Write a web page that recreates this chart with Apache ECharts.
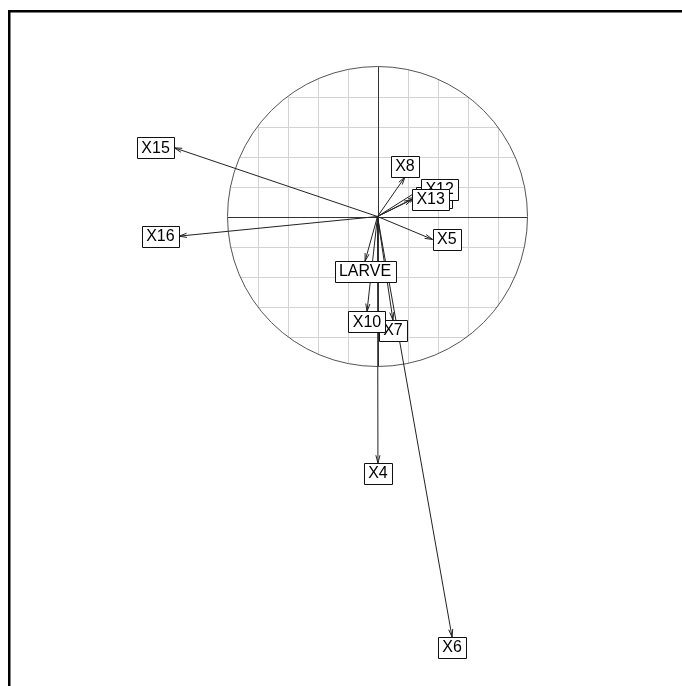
<!DOCTYPE html>
<html><head><meta charset="utf-8">
<script src="https://cdn.jsdelivr.net/npm/echarts@6/dist/echarts.min.js"></script>
<style>html,body{margin:0;padding:0;background:#fff}#c{width:682px;height:686px}</style>
</head><body><div id="c"></div>
<script>
// Variable names (in drawing order) and their correlation-circle coordinates
const labels  = ['X4','X5','X6','X7','X8','X10','X11','X12','X13','X15','X16','LARVE'];
const xValues = [0.003, 0.367, 0.497, 0.103, 0.183, -0.070, 0.257, 0.290, 0.230, -1.355, -1.323, -0.083];
const yValues = [-1.643, -0.153, -2.803, -0.690, 0.263, -0.633, 0.130, 0.183, 0.113, 0.458, -0.131, -0.297];
const gridTicks = [-0.8, -0.6, -0.4, -0.2, 0.2, 0.4, 0.6, 0.8];

const FONT = '16px "Liberation Sans", Arial, sans-serif';
const ctx = document.createElement('canvas').getContext('2d');
ctx.font = FONT;
function tw(s){ return ctx.measureText(s).width; }

const chart = echarts.init(document.getElementById('c'), null, {renderer:'canvas'});

function circleItem(params, api){
  const c = api.coord([0,0]);
  const s = api.size([1,1]);
  const r = s[0];
  const ch = [];
  gridTicks.forEach(v => {
    const h = Math.sqrt(1 - v*v);
    const a = api.coord([v, -h]), b = api.coord([v, h]);
    ch.push({type:'line', shape:{x1:Math.round(a[0])+0.5, y1:a[1], x2:Math.round(b[0])+0.5, y2:b[1]},
      style:{stroke:'#d3d3d3', lineWidth:1}});
    const p = api.coord([-h, v]), q = api.coord([h, v]);
    ch.push({type:'line', shape:{x1:p[0], y1:Math.round(p[1])+0.5, x2:q[0], y2:Math.round(q[1])+0.5},
      style:{stroke:'#d3d3d3', lineWidth:1}});
  });
  const l = api.coord([-1,0]), rr = api.coord([1,0]), t = api.coord([0,1]), b = api.coord([0,-1]);
  ch.push({type:'line', shape:{x1:l[0], y1:Math.round(l[1])+0.5, x2:rr[0], y2:Math.round(rr[1])+0.5}, style:{stroke:'#333', lineWidth:1}});
  ch.push({type:'line', shape:{x1:Math.round(t[0])+0.5, y1:t[1], x2:Math.round(b[0])+0.5, y2:b[1]}, style:{stroke:'#333', lineWidth:1}});
  ch.push({type:'circle', shape:{cx:c[0], cy:c[1], r:r}, style:{stroke:'#555', fill:null, lineWidth:1}});
  return {type:'group', children:ch};
}

function arrowItem(params, api){
  const p0 = api.coord([0,0]);
  const p1 = api.coord([api.value(0), api.value(1)]);
  const a = Math.atan2(p1[1]-p0[1], p1[0]-p0[0]);
  const L = 8, th = 15*Math.PI/180;
  const h1 = [p1[0]-L*Math.cos(a-th), p1[1]-L*Math.sin(a-th)];
  const h2 = [p1[0]-L*Math.cos(a+th), p1[1]-L*Math.sin(a+th)];
  return {type:'group', children:[
    {type:'line', shape:{x1:p0[0], y1:p0[1], x2:p1[0], y2:p1[1]}, style:{stroke:'#222', lineWidth:1}},
    {type:'polyline', shape:{points:[h1, p1, h2]}, style:{stroke:'#222', fill:null, lineWidth:1}}
  ]};
}

function labelItem(params, api){
  const x = api.value(0), y = api.value(1);
  const name = labels[params.dataIndex];
  const p = api.coord([x, y]);
  const xh = tw(' ' + name + ' ');
  const yh = 10.5;
  let cx = p[0], cy = p[1];
  if (x > y && x > -y) { cx = p[0] + xh/2; }
  else if (x > y && x <= -y) { cy = p[1] + yh; }
  else if (x <= y && x <= -y) { cx = p[0] - xh/2; }
  else { cy = p[1] - yh; }
  const rx = Math.round(cx - xh/2) + 0.5, ry = Math.round(cy - yh) + 0.5;
  return {type:'group', children:[
    {type:'rect', shape:{x:rx, y:ry, width:Math.round(xh), height:Math.round(2*yh)},
      style:{fill:'#fff', stroke:'#111', lineWidth:1}},
    {type:'text', style:{x:cx, y:cy+0.5, text:name, font:FONT, fill:'#000', align:'center', verticalAlign:'middle'}}
  ]};
}

const pts = labels.map((n,i) => [xValues[i], yValues[i]]);

chart.setOption({
  animation:false,
  backgroundColor:'#fff',
  grid:{left:2.5, top:6.5, width:675, height:660},
  xAxis:{type:'value', min:-2.5, max:2.0, show:false},
  yAxis:{type:'value', min:-3.0, max:1.4, show:false},
  graphic:[{type:'rect', z:100, shape:{x:9.25, y:11.25, width:800, height:800},
    style:{stroke:'#000', fill:null, lineWidth:2.5}}],
  series:[
    {type:'custom', z:1, renderItem:circleItem, data:[[0,0]], silent:true},
    {type:'custom', z:2, renderItem:arrowItem, data:pts, silent:true},
    {type:'custom', z:3, renderItem:labelItem, data:pts, silent:true}
  ]
});
</script>
</body></html>
